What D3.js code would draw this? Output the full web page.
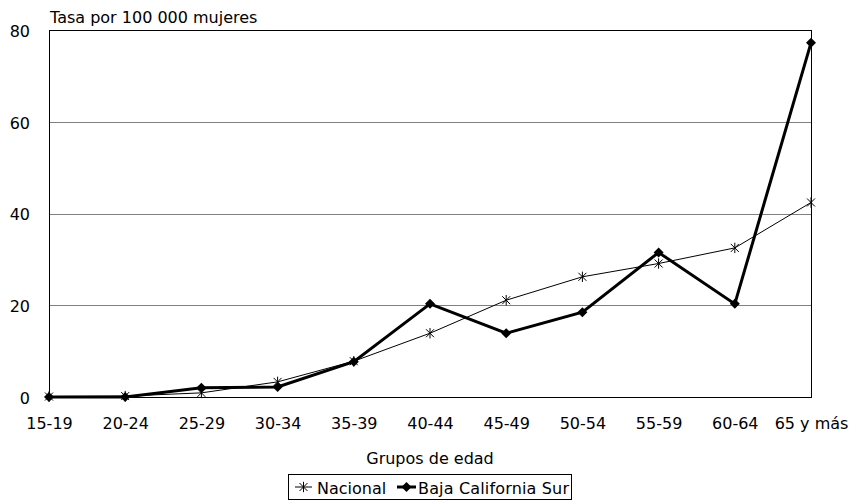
<!DOCTYPE html>
<html>
<head>
<meta charset="utf-8">
<script src="https://cdn.jsdelivr.net/npm/d3@7"></script>
<style>
  body { margin: 0; background: #fff; }
  text { font-family: "DejaVu Sans", sans-serif; fill: #000; }
</style>
</head>
<body>
<svg id="chart" width="849" height="503"></svg>
<script>
// age groups
var grupos = ['15-19', '20-24', '25-29', '30-34', '35-39', '40-44', '45-49', '50-54', '55-59', '60-64', '65 y más'];
var nacional = [0.1, 0.2, 0.9, 3.3, 7.8, 13.9, 21.1, 26.2, 29.1, 32.5, 42.4];
var bcs = [0, 0, 2.0, 2.2, 7.7, 20.3, 13.9, 18.5, 31.5, 20.3, 77.2];
var yTicks = [0, 20, 40, 60, 80];

var svg = d3.select('#chart');
var pLeft = 49, pRight = 811, pTop = 30, pBottom = 397;

var x = d3.scalePoint()
    .domain(grupos)
    .range([pLeft, pRight])
    .padding(0);

var y = d3.scaleLinear()
    .domain([0, 80])
    .range([pBottom, pTop]);

// gridlines
svg.selectAll('line.grid')
    .data([20, 40, 60])
    .enter()
    .append('line')
    .attr('class', 'grid')
    .attr('x1', pLeft).attr('x2', pRight)
    .attr('y1', d => Math.round(y(d)) + 0.5).attr('y2', d => Math.round(y(d)) + 0.5)
    .attr('stroke', '#808080')
    .attr('stroke-width', 1);

// frame
svg.append('rect')
    .attr('x', pLeft + 0.5).attr('y', pTop + 0.5)
    .attr('width', pRight - pLeft).attr('height', pBottom - pTop)
    .attr('fill', 'none')
    .attr('stroke', '#000')
    .attr('stroke-width', 1);

// y axis labels
var yAxis = d3.axisLeft(y).tickValues(yTicks).tickSize(0).tickPadding(19);
var gy = svg.append('g').attr('transform', 'translate(' + pLeft + ',0)').call(yAxis);
gy.select('.domain').remove();
gy.selectAll('text').attr('font-size', '16px').attr('font-family', '"DejaVu Sans", sans-serif').attr('dy', '0.4em');

// x axis labels
var xAxis = d3.axisBottom(x).tickSize(0).tickPadding(21);
var gx = svg.append('g').attr('transform', 'translate(0,' + pBottom + ')').call(xAxis);
gx.select('.domain').attr('stroke', '#000');
gx.selectAll('text').attr('font-size', '16px').attr('font-family', '"DejaVu Sans", sans-serif');

// y axis title
svg.append('text')
    .attr('x', 50).attr('y', 23)
    .attr('font-size', '16px')
    .text('Tasa por 100 000 mujeres');

// x axis title
svg.append('text')
    .attr('x', 430).attr('y', 464)
    .attr('text-anchor', 'middle')
    .attr('font-size', '16px')
    .text('Grupos de edad');

var line = d3.line()
    .x((d, i) => x(grupos[i]))
    .y(d => y(d));

function star(g, cx, cy, r) {
  var p = 'M' + (cx - r) + ',' + (cy - r) + 'L' + (cx + r) + ',' + (cy + r) +
          'M' + (cx - r) + ',' + (cy + r) + 'L' + (cx + r) + ',' + (cy - r) +
          'M' + cx + ',' + (cy - r * 1.3) + 'L' + cx + ',' + (cy + r * 1.3);
  g.append('path').attr('d', p).attr('stroke', '#000').attr('stroke-width', 1).attr('fill', 'none');
}
function diamond(g, cx, cy, r) {
  g.append('path')
    .attr('d', 'M' + cx + ',' + (cy - r) + 'L' + (cx + r) + ',' + cy + 'L' + cx + ',' + (cy + r) + 'L' + (cx - r) + ',' + cy + 'Z')
    .attr('fill', '#000');
}

// Nacional
svg.append('path')
    .datum(nacional)
    .attr('d', line)
    .attr('fill', 'none')
    .attr('stroke', '#000')
    .attr('stroke-width', 1);
var gN = svg.append('g');
nacional.forEach(function(d, i) { star(gN, x(grupos[i]), y(d), 4); });

// Baja California Sur
svg.append('path')
    .datum(bcs)
    .attr('d', line)
    .attr('fill', 'none')
    .attr('stroke', '#000')
    .attr('stroke-width', 3);
var gB = svg.append('g');
bcs.forEach(function(d, i) { diamond(gB, x(grupos[i]), y(d), 5); });

// legend
var lg = svg.append('g');
lg.append('rect')
    .attr('x', 288.5).attr('y', 474.5)
    .attr('width', 283).attr('height', 25)
    .attr('fill', '#fff')
    .attr('stroke', '#000');
lg.append('line').attr('x1', 295).attr('x2', 312).attr('y1', 487).attr('y2', 487).attr('stroke', '#000');
star(lg, 303.5, 487, 4);
lg.append('text').attr('x', 317).attr('y', 494).attr('font-size', '16px').text('Nacional');
lg.append('line').attr('x1', 397).attr('x2', 416).attr('y1', 487).attr('y2', 487).attr('stroke', '#000').attr('stroke-width', 3);
diamond(lg, 406.5, 487, 5);
lg.append('text').attr('x', 418).attr('y', 494).attr('font-size', '16px').attr('textLength', 151).text('Baja California Sur');
</script>
</body>
</html>
